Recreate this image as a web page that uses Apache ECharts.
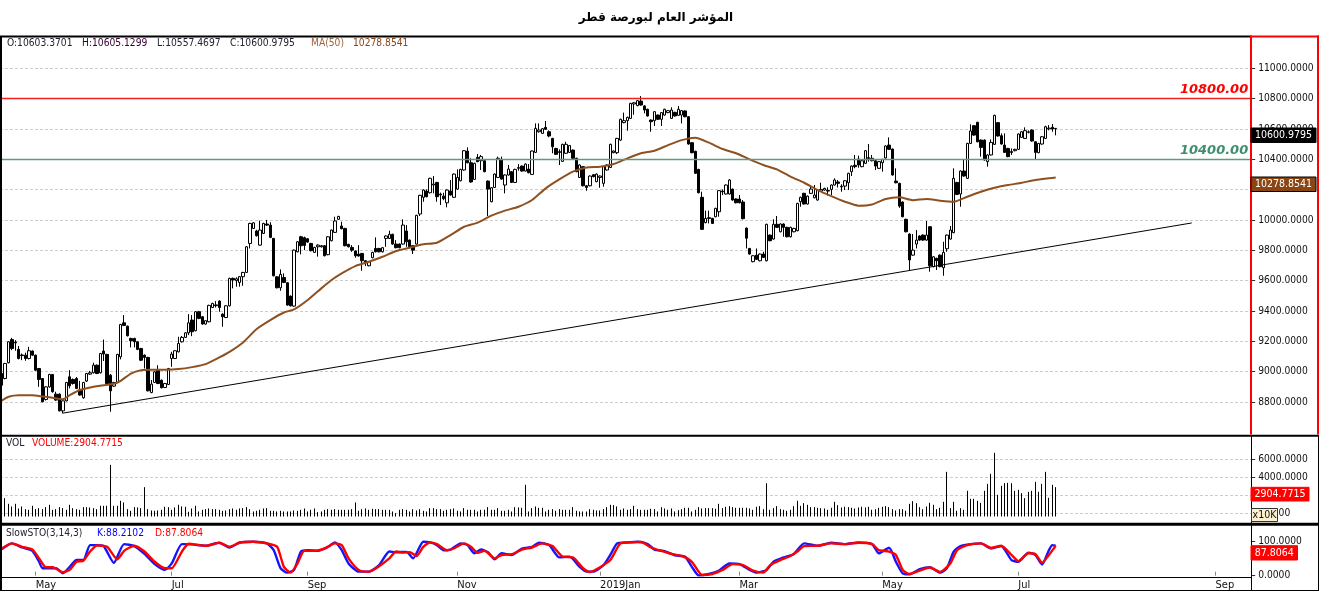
<!DOCTYPE html>
<html>
<head>
<meta charset="utf-8">
<title>QE index</title>
<script src="https://cdn.jsdelivr.net/npm/echarts@6/dist/echarts.min.js"></script>
<style>
  html, body { margin: 0; padding: 0; background: #fff; }
  #chart { width: 1319px; height: 591px; }
</style>
</head>
<body>
<div id="chart"></div>
<script>
// 每根K线: [open, close, low, high]
var candles = [
[8988,8911,8905,8995],[8955,9054,8950,9058],[9059,9197,9055,9200],[9212,9153,9142,9223],[9195,9190,9138,9208],
[9147,9087,9081,9169],[9110,9106,9076,9120],[9109,9087,9072,9125],[9087,9138,9081,9164],[9136,9109,9105,9140],
[9109,9010,9005,9112],[9021,8949,8900,9025],[8955,8802,8798,8958],[8817,8900,8810,8905],[8900,8982,8895,8986],
[8982,8868,8862,8985],[8852,8813,8808,8868],[8852,8742,8738,8858],[8742,8808,8725,8812],[8808,8929,8804,8933],
[8966,8907,8890,9010],[8949,8922,8915,8955],[8955,8890,8885,8965],[8879,8846,8842,8940],[8828,8929,8822,8933],
[8938,8988,8932,8992],[8984,8993,8978,9005],[8993,9043,8988,9059],[9043,8988,8984,9047],[8993,9120,8988,9124],
[9136,9116,9070,9212],[9114,8922,8918,9118],[8977,8874,8736,8985],[8905,8929,8900,8933],[8929,9114,8925,9118],
[9098,9311,9081,9315],[9322,9305,9300,9373],[9300,9237,9232,9304],[9219,9204,9160,9224],[9219,9197,9160,9224],
[9197,9147,9142,9200],[9153,9076,9070,9157],[9109,9094,9021,9114],[9094,8874,8870,9098],[8863,8918,8858,8945],
[8929,8999,8925,9004],[9010,8922,8918,9043],[8944,8894,8890,8948],[8896,8922,8892,8926],[8916,9021,8912,9025],
[9087,9116,9032,9131],[9087,9138,9083,9142],[9131,9186,9127,9230],[9197,9226,9192,9235],[9226,9256,9222,9260],
[9256,9322,9241,9379],[9340,9263,9234,9373],[9270,9395,9266,9399],[9395,9351,9346,9401],[9362,9314,9310,9366],
[9314,9336,9310,9340],[9329,9437,9325,9441],[9423,9450,9419,9454],[9440,9435,9423,9465],[9465,9423,9395,9470],
[9379,9362,9296,9385],[9357,9434,9353,9438],[9434,9615,9430,9619],[9615,9604,9549,9620],[9600,9612,9560,9622],
[9588,9626,9560,9630],[9626,9654,9566,9658],[9654,9823,9650,9827],[9845,9977,9812,9981],[9944,9981,9940,9985],
[9927,9896,9890,9935],[9834,9933,9830,9995],[9911,9977,9907,9981],[9973,9966,9960,10000],[9966,9885,9880,9985],
[9878,9632,9628,9882],[9625,9553,9549,9629],[9553,9641,9533,9674],[9621,9588,9584,9648],[9586,9439,9435,9590],
[9498,9434,9430,9502],[9432,9801,9428,9805],[9790,9856,9786,9860],[9889,9830,9773,9895],[9883,9832,9801,9890],
[9876,9854,9850,9880],[9845,9797,9793,9849],[9786,9819,9782,9823],[9823,9834,9758,9840],[9823,9830,9818,9835],
[9830,9764,9760,9834],[9771,9889,9767,9893],[9863,9933,9859,9937],[9918,9993,9914,10021],[10004,10023,10000,10027],
[9960,9942,9938,9988],[9944,9830,9826,9948],[9839,9823,9819,9843],[9819,9801,9790,9834],[9795,9764,9751,9799],
[9775,9762,9758,9834],[9779,9731,9665,9783],[9731,9718,9696,9735],[9698,9725,9694,9729],[9751,9786,9747,9790],
[9812,9790,9786,9885],[9812,9790,9786,9816],[9790,9817,9786,9821],[9878,9894,9823,9898],[9878,9905,9874,9929],
[9905,9841,9837,9909],[9841,9817,9813,9867],[9841,9817,9813,9845],[9841,9966,9837,10004],[9927,9856,9823,9966],
[9867,9823,9819,9871],[9830,9801,9775,9834],[9841,10030,9837,10034],[10039,10162,10026,10166],[10149,10197,10120,10201],
[10190,10153,10149,10201],[10179,10274,10175,10278],[10230,10236,10175,10289],[10247,10153,10120,10251],[10170,10165,10098,10180],
[10157,10140,10130,10179],[10113,10197,10083,10201],[10190,10164,10160,10263],[10149,10302,10145,10306],[10203,10280,10199,10333],
[10258,10333,10254,10337],[10329,10456,10325,10460],[10454,10377,10373,10478],[10377,10250,10245,10406],[10267,10373,10263,10377],
[10412,10384,10380,10434],[10390,10417,10329,10428],[10390,10318,10314,10394],[10256,10203,10026,10260],[10120,10212,10116,10216],
[10214,10302,10210,10306],[10280,10406,10276,10417],[10399,10269,10265,10417],[10230,10296,10175,10300],[10296,10335,10292,10362],
[10318,10247,10243,10322],[10247,10333,10243,10337],[10340,10345,10324,10368],[10355,10322,10318,10359],[10322,10368,10318,10372],
[10335,10311,10307,10368],[10300,10454,10296,10458],[10445,10603,10441,10636],[10581,10592,10575,10636],[10570,10601,10566,10605],
[10610,10597,10593,10652],[10581,10553,10545,10590],[10537,10482,10439,10541],[10471,10432,10428,10475],[10450,10445,10362,10465],
[10386,10498,10382,10502],[10439,10498,10435,10515],[10445,10490,10441,10494],[10460,10406,10402,10464],[10406,10318,10314,10410],
[10280,10362,10276,10366],[10351,10225,10221,10355],[10225,10214,10192,10229],[10225,10289,10221,10293],[10298,10285,10281,10302],
[10252,10302,10248,10306],[10280,10289,10212,10293],[10241,10351,10219,10355],[10329,10362,10325,10366],[10346,10498,10342,10502],
[10443,10454,10439,10458],[10443,10537,10434,10541],[10526,10663,10522,10667],[10641,10654,10637,10707],[10654,10676,10588,10680],
[10669,10768,10665,10772],[10764,10772,10693,10776],[10753,10786,10749,10790],[10783,10757,10753,10816],[10751,10724,10702,10755],
[10729,10685,10681,10733],[10658,10647,10581,10662],[10654,10713,10619,10717],[10691,10663,10659,10695],[10663,10707,10619,10711],
[10691,10729,10687,10733],[10707,10720,10703,10724],[10669,10724,10665,10742],[10709,10685,10681,10713],[10689,10729,10685,10751],
[10691,10720,10636,10724],[10718,10680,10676,10722],[10680,10500,10496,10684],[10509,10443,10439,10513],[10452,10307,10303,10456],
[10333,10179,10175,10337],[10149,9938,9934,10186],[9982,10010,9978,10061],[10015,10010,9977,10061],[10010,9977,9973,10014],
[10021,10076,10017,10080],[10054,10193,10021,10197],[10190,10185,10164,10201],[10171,10230,10167,10234],[10171,10263,10167,10269],
[10203,10131,10127,10207],[10138,10113,10109,10142],[10138,10113,10109,10164],[10118,10008,10004,10131],[9946,9880,9812,9950],
[9812,9775,9771,9816],[9725,9764,9721,9768],[9768,9740,9736,9812],[9731,9775,9727,9779],[9775,9753,9749,9790],
[9731,9971,9727,9975],[9900,9863,9859,9904],[9874,9971,9870,10004],[9971,9951,9947,10026],[9922,9973,9918,9977],
[9973,9951,9889,9977],[9951,9889,9885,9955],[9889,9951,9885,9955],[9922,9944,9918,9948],[9929,10109,9925,10113],
[10120,10149,10087,10153],[10175,10105,10101,10179],[10105,10157,10101,10161],[10175,10203,10171,10230],[10146,10164,10142,10230],
[10131,10197,10127,10201],[10190,10201,10186,10245],[10197,10208,10193,10212],[10195,10190,10160,10215],[10201,10230,10164,10234],
[10230,10263,10226,10274],[10250,10241,10214,10263],[10222,10218,10186,10235],[10223,10258,10197,10262],[10245,10307,10197,10311],
[10318,10355,10289,10359],[10360,10351,10340,10428],[10401,10362,10344,10423],[10351,10390,10347,10394],[10373,10456,10369,10460],
[10410,10405,10384,10500],[10390,10406,10386,10428],[10390,10355,10329,10394],[10340,10384,10336,10388],[10377,10399,10318,10403],
[10408,10487,10404,10491],[10493,10465,10461,10544],[10467,10296,10292,10471],[10256,10245,10241,10340],[10241,10091,10080,10245],
[10118,10021,10017,10122],[10004,9922,9918,10008],[9907,9736,9665,9911],[9768,9801,9764,9907],[9841,9867,9812,9933],
[9894,9867,9863,9898],[9900,9867,9863,9904],[9867,9900,9863,9993],[9955,9698,9659,9959],[9692,9757,9688,9761],
[9747,9731,9670,9751],[9768,9692,9688,9772],[9685,9786,9632,9856],[9810,9900,9790,9904],[9874,9933,9870,9960],
[9916,10274,9912,10340],[10247,10168,10164,10251],[10171,10322,10087,10326],[10322,10289,10285,10400],[10274,10504,10270,10508],
[10504,10586,10500,10630],[10621,10559,10555,10625],[10643,10515,10511,10647],[10526,10478,10417,10530],[10526,10395,10391,10530],
[10384,10428,10351,10432],[10428,10511,10424,10531],[10498,10689,10494,10693],[10641,10553,10549,10645],[10555,10500,10496,10570],
[10493,10445,10441,10570],[10471,10417,10413,10475],[10450,10445,10428,10471],[10456,10465,10452,10469],[10465,10566,10461,10570],
[10544,10581,10540,10585],[10537,10588,10533,10610],[10580,10578,10570,10590],[10592,10520,10516,10596],[10515,10445,10401,10519],
[10443,10504,10439,10508],[10500,10548,10496,10552],[10537,10614,10533,10621],[10600,10605,10590,10625],[10610,10599,10581,10632],
[10603.3701,10600.9795,10557.4697,10605.1299]
];

var volumes = [
800,1683,1054,758,1054,536,758,462,388,832,
462,573,462,684,943,388,462,684,573,388,
943,573,462,388,684,684,647,573,462,832,
832,832,5383,832,832,1387,1202,462,277,684,
647,573,2904,462,314,277,314,388,721,684,
388,647,943,758,721,166,536,832,203,388,
462,536,462,462,388,277,314,462,536,388,
536,573,684,462,203,277,388,536,573,277,
277,203,277,203,203,203,314,277,388,536,
203,388,536,129,203,388,462,388,462,388,
388,388,388,462,1202,277,462,536,388,499,
462,462,388,388,388,203,18,388,462,388,
203,462,314,462,277,203,573,573,462,462,
277,388,462,536,277,203,573,388,388,388,
203,388,388,684,388,388,573,277,277,388,
203,684,647,610,3163,203,573,758,610,610,
203,388,462,277,462,388,388,388,684,277,
203,203,203,462,388,314,314,462,684,943,
906,758,388,536,388,462,832,462,388,388,
388,499,462,203,684,536,388,536,203,351,
462,610,610,203,388,684,536,573,573,573,
499,1054,573,721,795,684,610,610,610,610,
536,388,721,795,462,3348,388,573,795,462,
388,277,388,795,1387,832,1128,943,684,684,
610,573,536,388,610,1276,906,647,721,684,
610,536,647,721,647,721,388,462,610,721,
795,684,462,314,462,462,277,1054,1350,1128,
684,462,758,1165,943,462,610,1276,4606,573,
1276,277,573,388,2497,1609,1609,1387,1165,2497,
3274,4384,6715,2053,3052,3348,3385,3348,2497,2608,
2238,1683,2386,2497,3496,2386,3274,4606,1720,3163,2904.7715
];

// 点: [K线序号, 数值]
var ma50 = [[0,8810],[2,8835],[5,8845],[9,8845],[12,8837],[15,8828],[18,8819],[20,8845],[23,8879],[26,8896],[29,8907],[33,8920],[35,8940],[38,8988],[41,9010],[44,9013],[48,9013],[52,9017],[56,9030],[60,9050],[64,9094],[67,9131],[71,9193],[75,9281],[79,9340],[83,9390],[86,9410],[90,9472],[94,9549],[97,9604],[100,9648],[104,9696],[108,9724],[112,9757],[116,9795],[120,9817],[124,9839],[128,9850],[132,9900],[136,9955],[140,9982],[144,10028],[148,10061],[152,10087],[156,10131],[160,10208],[164,10267],[168,10318],[172,10346],[176,10351],[180,10368],[184,10406],[188,10439],[192,10456],[196,10493],[200,10526],[204,10542],[208,10509],[212,10467],[216,10439],[220,10399],[224,10362],[228,10333],[232,10285],[236,10245],[240,10197],[244,10157],[248,10120],[252,10094],[256,10102],[260,10138],[264,10149],[268,10130],[272,10138],[276,10127],[280,10120],[284,10153],[288,10186],[292,10212],[296,10230],[300,10245],[304,10263],[308,10274],[310,10278.8541]];

var stoK = [[0,78],[3,95],[6,83],[9,73],[11,41],[12,22],[14,22],[16,22],[18,7],[20,26],[22,46],[24,46],[26,90],[28,90],[30,87],[33,38],[36,93],[39,87],[42,64],[45,34],[48,17],[50,36],[53,93],[56,92],[60,88],[64,97],[67,83],[70,98],[74,100],[78,95],[80,75],[82,22],[84,9],[86,17],[88,71],[90,75],[93,73],[96,85],[98,98],[100,75],[102,36],[105,12],[108,12],[111,31],[114,71],[116,69],[119,70],[121,51],[124,100],[126,98],[128,90],[130,75],[132,77],[135,95],[137,90],[139,66],[141,77],[143,69],[145,48],[147,66],[150,61],[153,80],[156,85],[158,97],[161,90],[164,54],[167,56],[170,26],[172,12],[174,12],[177,31],[179,61],[181,95],[184,98],[187,100],[190,93],[192,77],[195,72],[198,60],[201,56],[203,26],[205,1],[208,5],[211,15],[214,36],[217,34],[220,17],[222,9],[225,17],[227,41],[230,54],[233,64],[236,95],[240,88],[244,97],[248,93],[252,98],[256,93],[258,66],[261,82],[263,41],[265,7],[267,4],[270,19],[273,25],[276,9],[278,22],[280,71],[282,87],[285,93],[288,95],[291,80],[294,87],[297,46],[299,41],[302,68],[304,61],[306,33],[308,75],[309,90],[310,88.2102]];

var stoD = [[0,80],[3,95],[6,85],[9,77],[11,51],[13,25],[15,25],[18,10],[20,17],[22,41],[24,44],[26,71],[28,89],[31,85],[34,48],[36,73],[39,88],[42,71],[45,41],[48,22],[50,22],[53,71],[55,94],[58,90],[60,88],[64,97],[67,85],[70,97],[74,100],[78,95],[81,85],[83,26],[85,9],[87,36],[89,73],[92,73],[95,80],[98,95],[100,90],[102,51],[105,17],[108,12],[111,28],[114,51],[116,71],[118,68],[120,69],[122,58],[124,85],[126,98],[128,93],[131,75],[133,80],[136,95],[138,85],[140,67],[142,73],[145,51],[147,61],[150,63],[153,77],[156,83],[159,95],[162,87],[165,56],[168,54],[171,22],[173,11],[176,25],[179,46],[182,95],[185,98],[188,99],[191,83],[194,73],[197,64],[200,58],[203,41],[206,2],[209,5],[212,17],[215,34],[218,31],[221,15],[224,9],[226,31],[229,46],[232,58],[234,71],[236,87],[240,88],[244,95],[248,93],[252,97],[256,93],[258,75],[261,71],[263,61],[265,17],[267,5],[270,15],[273,24],[276,11],[279,36],[281,75],[284,90],[288,95],[291,82],[294,88],[297,61],[299,43],[302,66],[304,64],[306,38],[308,61],[310,87.8064]];

var trendLine = [[18,8727],[350,9980]];
var levels = [10800, 10400];
var monthLabels = ['May','Jul','Sep','Nov','2019Jan','Mar','May','Jul','Sep'];
var monthSlots = [10,50,90,134,176,217,259,299,357];
var slotCount = 368;
var volumeFloor = -355;

var categories = [];
for (var s = 0; s < slotCount; s++) { categories.push(String(s)); }
// 用K线的影线画成交量，线条不会发虚
var volumeSticks = volumes.map(function (v) { return [volumeFloor, volumeFloor, volumeFloor, v]; });

var labelFont = 'DejaVu Sans Condensed';
var gridLine = { show: true, showMinLine: false, showMaxLine: false, lineStyle: { color: '#ccc', type: [3, 2], width: 1 } };
var axisFont = { color: '#111', fontFamily: labelFont, fontSize: 10.2, margin: 7 };

function priceLabel(v) { return v.toFixed(4); }

function hiddenX(gridIndex) {
  return { type: 'category', gridIndex: gridIndex, data: categories, show: false };
}

function rightY(gridIndex, min, max, step, hideEnds) {
  return {
    type: 'value', gridIndex: gridIndex, position: 'right', min: min, max: max, interval: step,
    axisLine: { show: false },
    axisTick: { show: true, length: 4, lineStyle: { color: '#333' } },
    axisLabel: Object.assign({ formatter: priceLabel, showMinLabel: !hideEnds, showMaxLabel: !hideEnds }, axisFont),
    splitLine: gridLine
  };
}

// 顶部的文字和右边的价格标签
function txt(x, y, text, color) {
  return { type: 'text', x: x, y: y, z: 120, style: { text: text, fill: color || '#111', font: '10.2px "' + labelFont + '"', verticalAlign: 'middle' } };
}
function tag(x, y, w, h, fill, text, border) {
  return [
    { type: 'rect', z: 110, shape: { x: x, y: y, width: w, height: h }, style: { fill: fill, stroke: border || fill, lineWidth: 1 } },
    { type: 'text', z: 111, x: x + w / 2, y: y + h / 2 + 0.5, style: { text: text, fill: '#fff', font: '10.5px "' + labelFont + '"', align: 'center', verticalAlign: 'middle' } }
  ];
}
function bar(x, y, w, h, fill) {
  return { type: 'rect', z: 105, shape: { x: x, y: y, width: w, height: h }, style: { fill: fill } };
}

var frames = [
  bar(0, 35.5, 1251, 2, '#000'),
  bar(0, 36, 2, 554, '#000'),
  bar(0, 434.7, 1319, 2, '#000'),
  bar(0, 522.8, 1319, 3, '#000'),
  bar(0, 577, 1251, 1, '#000'),
  bar(0, 590, 1319, 1, '#000'),
  bar(1251, 436, 1, 154, '#000'),
  bar(1318, 436, 1, 154, '#000'),
  bar(1250, 35.5, 69, 2, '#f00'),
  bar(1250, 35.5, 2, 399, '#f00'),
  bar(1317, 35.5, 2, 399, '#f00')
];

var notes = [
  txt(7, 43.5, 'O:10603.3701', '#223'),
  txt(82, 43.5, 'H:10605.1299', '#303'),
  txt(157, 43.5, 'L:10557.4697', '#223'),
  txt(230, 43.5, 'C:10600.9795', '#223'),
  txt(311, 43.5, 'MA(50)', '#a0603a'),
  txt(353, 43.5, '10278.8541', '#8b4513'),
  txt(6, 443.5, 'VOL', '#223'),
  txt(32, 443.5, 'VOLUME:2904.7715', '#f00'),
  txt(6, 533, 'SlowSTO(3,14,3)', '#223'),
  txt(97, 533, 'K:88.2102', '#00f'),
  txt(155, 533, 'D:87.8064', '#f00')
];

var tags = [].concat(
  tag(1251, 128, 65, 14.5, '#000', '10600.9795'),
  tag(1251, 177, 65, 14.5, '#8b4513', '10278.8541', '#000'),
  tag(1251, 487.3, 58, 13.7, '#f00', '2904.7715'),
  tag(1251, 545.7, 46.5, 14.3, '#f00', '87.8064')
);

var unitBox = [
  { type: 'rect', z: 112, shape: { x: 1251.5, y: 508.5, width: 26, height: 13 }, style: { fill: '#fdf0cf', stroke: '#333', lineWidth: 1 } },
  { type: 'text', z: 113, x: 1264.5, y: 515.5, style: { text: 'x10K', fill: '#111', font: '10.5px "' + labelFont + '"', align: 'center', verticalAlign: 'middle' } }
];

var levelLabel = { position: 'insideEndTop', offset: [2, 3], fontFamily: 'DejaVu Sans', fontStyle: 'italic', fontWeight: 'bold', fontSize: 13 };

var myChart = echarts.init(document.querySelector('#chart'));

var option = {
  animation: false,
  backgroundColor: '#fff',
  title: {
    text: 'المؤشر العام لبورصة قطر',
    left: 651,
    top: 7,
    textAlign: 'center',
    textStyle: { color: '#000', fontFamily: 'DejaVu Sans', fontSize: 12, fontWeight: 'bold' }
  },
  grid: [
    { left: 0, width: 1251.2, top: 37.8, height: 394.6 },
    { left: 0, width: 1251.2, top: 441.3, height: 90 },
    { left: 0, width: 1251.2, top: 541.7, height: 34 }
  ],
  xAxis: [
    hiddenX(0),
    hiddenX(1),
    {
      type: 'category',
      gridIndex: 2,
      data: categories,
      offset: 1,
      axisLine: { show: false },
      axisTick: {
        show: true,
        inside: true,
        length: 4,
        alignWithLabel: true,
        interval: function (i) { return monthSlots.indexOf(i) >= 0; },
        lineStyle: { color: '#888' }
      },
      axisLabel: {
        interval: function (i) { return monthSlots.indexOf(i) >= 0; },
        formatter: function (v, i) { return monthLabels[monthSlots.indexOf(i)]; },
        align: 'left',
        color: '#111',
        fontFamily: labelFont,
        fontSize: 11,
        margin: 3
      }
    }
  ],
  yAxis: [
    rightY(0, 8600, 11200, 200, true),
    rightY(1, -2000, 8000, 2000, true),
    rightY(2, 0, 100, 100, false)
  ],
  series: [
    {
      name: 'candles',
      type: 'candlestick',
      xAxisIndex: 0,
      yAxisIndex: 0,
      data: candles,
      barWidth: 3,
      itemStyle: { color: '#fff', color0: '#000', borderColor: '#000', borderColor0: '#000', borderWidth: 1 },
      markLine: {
        silent: true,
        symbol: 'none',
        data: [
          {
            yAxis: levels[0],
            lineStyle: { color: '#f42020', type: 'solid', width: 1.3 },
            label: Object.assign({ formatter: '10800.00', color: '#f00' }, levelLabel)
          },
          {
            yAxis: levels[1],
            lineStyle: { color: '#5a9c80', type: 'solid', width: 1.3 },
            label: Object.assign({ formatter: '10400.00', color: '#3f8f6c' }, levelLabel)
          }
        ]
      }
    },
    {
      name: 'MA(50)',
      type: 'line',
      xAxisIndex: 0,
      yAxisIndex: 0,
      data: ma50,
      smooth: 0.2,
      showSymbol: false,
      lineStyle: { color: '#8f5020', width: 2 }
    },
    {
      name: 'trend',
      type: 'line',
      xAxisIndex: 0,
      yAxisIndex: 0,
      data: trendLine,
      showSymbol: false,
      lineStyle: { color: '#000', width: 1 }
    },
    {
      name: 'VOLUME',
      type: 'candlestick',
      xAxisIndex: 1,
      yAxisIndex: 1,
      barWidth: 1,
      data: volumeSticks,
      itemStyle: { color: '#000', color0: '#000', borderColor: '#000', borderColor0: '#000', borderWidth: 1 }
    },
    {
      name: 'K',
      type: 'line',
      xAxisIndex: 2,
      yAxisIndex: 2,
      data: stoK,
      smooth: 0.2,
      clip: false,
      showSymbol: false,
      lineStyle: { color: '#1414ff', width: 2.4 }
    },
    {
      name: 'D',
      type: 'line',
      xAxisIndex: 2,
      yAxisIndex: 2,
      data: stoD,
      smooth: 0.2,
      clip: false,
      showSymbol: false,
      lineStyle: { color: '#ff0000', width: 2.4 }
    }
  ],
  graphic: { elements: frames.concat(notes, tags, unitBox) }
};

myChart.setOption(option);
</script>
</body>
</html>
